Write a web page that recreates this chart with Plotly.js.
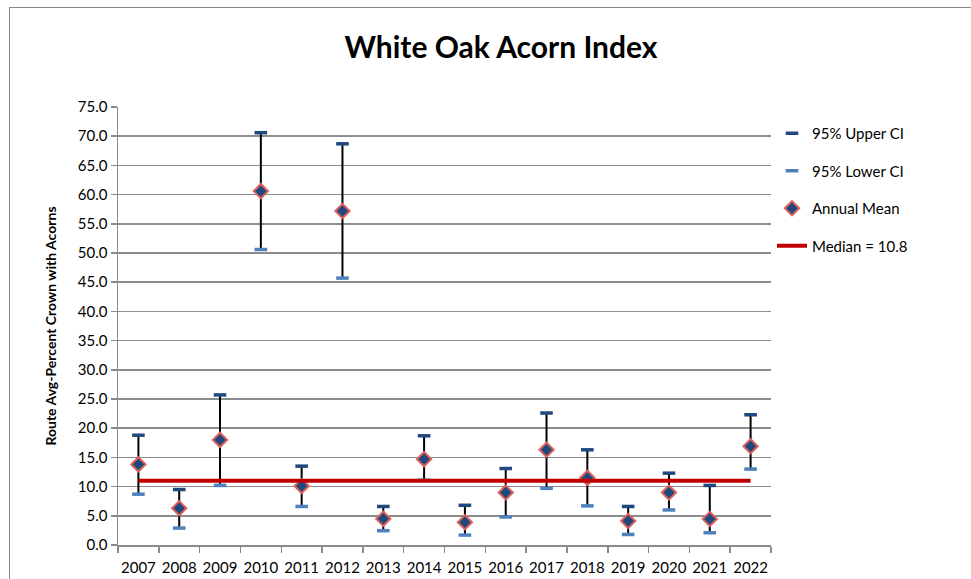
<!DOCTYPE html>
<html>
<head>
<meta charset="utf-8">
<script src="https://cdn.plot.ly/plotly-3.0.1.min.js"></script>
<style>
  html, body { margin: 0; padding: 0; background: #fff; overflow: hidden; }
  #frame { position: absolute; left: 9px; top: 7px; width: 1000px; height: 700px; border: 1.5px solid #8a8a8a; }
  #chart { position: absolute; left: 0; top: 0; width: 971px; height: 579px; }
</style>
</head>
<body>
<div id="frame"></div>
<div id="chart"></div>
<script>
var years = ['2007','2008','2009','2010','2011','2012','2013','2014','2015','2016','2017','2018','2019','2020','2021','2022'];
var annualMean = [13.8, 6.3, 18.0, 60.6, 10.1, 57.2, 4.5, 14.7, 3.9, 9.0, 16.3, 11.5, 4.1, 9.0, 4.45, 16.9];
var upperCI   = [18.8, 9.5, 25.7, 70.6, 13.5, 68.7, 6.6, 18.7, 6.8, 13.1, 22.6, 16.3, 6.6, 12.3, 10.2, 22.3];
var lowerCI   = [8.7, 2.9, 10.2, 50.6, 6.6, 45.7, 2.45, 11.1, 1.7, 4.8, 9.7, 6.7, 1.8, 6.0, 2.1, 13.0];
var medianLabel = 'Median = 10.8';
var medianLineValue = 11.0;
var medianYears = ['2007', '2022'];

var errPlus = annualMean.map(function (m, i) { return upperCI[i] - m; });
var errMinus = annualMean.map(function (m, i) { return m - lowerCI[i]; });

var font = 'Lato, "Open Sans", sans-serif';

var traces = [
  {
    x: years, y: annualMean, type: 'scatter', mode: 'markers', name: 'Annual Mean',
    legendrank: 3, legendgroup: 'g3',
    marker: { symbol: 'diamond', size: 11, color: '#1F497D', line: { color: '#E0605A', width: 2 } },
    error_y: { type: 'data', symmetric: false, array: errPlus, arrayminus: errMinus,
               color: '#000000', thickness: 2, width: 0 }
  },
  {
    x: years, y: upperCI, type: 'scatter', mode: 'markers', name: '95% Upper CI',
    legendrank: 1, legendgroup: 'g1',
    marker: { symbol: 'line-ew', size: 9, line: { color: '#1F497D', width: 3.5 } }
  },
  {
    x: years, y: lowerCI, type: 'scatter', mode: 'markers', name: '95% Lower CI',
    legendrank: 2, legendgroup: 'g2',
    marker: { symbol: 'line-ew', size: 9, line: { color: '#4F81BD', width: 3.5 } }
  },
  {
    x: medianYears, y: [medianLineValue, medianLineValue], type: 'scatter', mode: 'lines',
    name: medianLabel, legendrank: 4, legendgroup: 'g4',
    line: { color: '#C00000', width: 4 }
  }
];

var layout = {
  width: 971, height: 579,
  paper_bgcolor: 'rgba(0,0,0,0)', plot_bgcolor: 'rgba(0,0,0,0)',
  margin: { l: 118, r: 200, t: 107, b: 34 },
  font: { family: font, color: '#000' },
  title: { text: '<b>White Oak Acorn Index</b>', font: { family: font, size: 30, color: '#000' },
           x: 501 / 971, xanchor: 'center', y: 1 - 47 / 579, yanchor: 'middle', xref: 'container', yref: 'container' },
  showlegend: true,
  legend: {
    xref: 'container', yref: 'container', x: 772 / 971, y: 1 - 117 / 579, xanchor: 'left', yanchor: 'top',
    font: { family: font, size: 15, color: '#000' }, tracegroupgap: 15, itemwidth: 30,
    bgcolor: 'rgba(0,0,0,0)'
  },
  xaxis: {
    type: 'category', categoryorder: 'array', categoryarray: years,
    range: [-0.5, 15.5], tickangle: 0,
    tickson: 'boundaries', ticks: 'outside', ticklen: 6, tickcolor: '#8a8a8a', tickwidth: 1.5,
    showline: true, linecolor: '#8a8a8a', linewidth: 1.5,
    showgrid: false, zeroline: false,
    tickfont: { family: font, size: 15, color: '#000' },
    ticklabelstandoff: 8
  },
  yaxis: {
    range: [0, 75], dtick: 5, tick0: 0, tickformat: '.1f',
    ticks: 'outside', ticklen: 6, tickcolor: '#8a8a8a', tickwidth: 1.5,
    showline: true, linecolor: '#8a8a8a', linewidth: 1.5,
    showgrid: true, gridcolor: '#8c8c8c', gridwidth: 1.5, zeroline: false,
    tickfont: { family: font, size: 15, color: '#000' },
    title: { text: '<b>Route Avg-Percent Crown with Acorns</b>', font: { family: font, size: 14, color: '#000' }, standoff: 18 },
    automargin: false
  }
};

Plotly.newPlot('chart', traces, layout, { displayModeBar: false, staticPlot: true });
</script>
</body>
</html>
